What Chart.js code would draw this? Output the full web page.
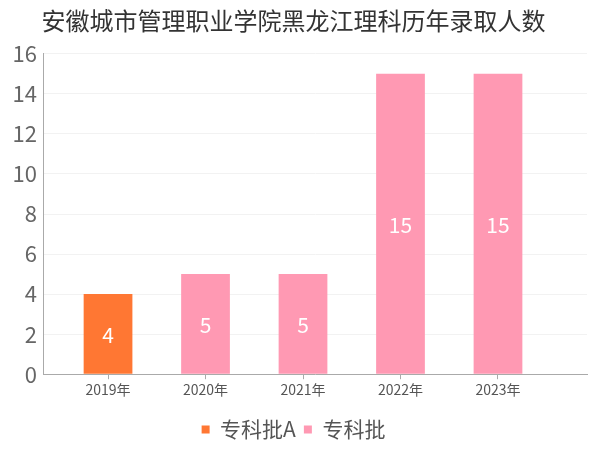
<!DOCTYPE html>
<html>
<head>
<meta charset="utf-8">
<script src="https://cdn.jsdelivr.net/npm/chart.js@4"></script>
<style>
  html, body { margin: 0; padding: 0; background: #fff; }
  #wrap { width: 600px; height: 450px; }
</style>
</head>
<body>
<div id="wrap"><canvas id="c" width="600" height="450"></canvas></div>
<script>
  // 数据
  const years = ['2019年', '2020年', '2021年', '2022年', '2023年'];
  const zhuankeA = [4, null, null, null, null];   // 专科批A
  const zhuanke = [null, 5, 5, 15, 15];           // 专科批
  const yTicks = [0, 2, 4, 6, 8, 10, 12, 14, 16];

  const FONT = '"Noto Sans CJK SC", "Noto Sans", sans-serif';

  // 只保留有值的点，x 用年份序号
  const toPoints = arr => arr
    .map((v, i) => ({ x: i, y: v }))
    .filter(p => p.y !== null);

  // 柱子中间的白色数字
  const barLabels = {
    id: 'barLabels',
    afterDatasetsDraw(chart) {
      const ctx = chart.ctx;
      ctx.save();
      ctx.fillStyle = '#fff';
      ctx.font = '21px ' + FONT;
      ctx.textAlign = 'center';
      ctx.textBaseline = 'middle';
      chart.data.datasets.forEach((ds, di) => {
        chart.getDatasetMeta(di).data.forEach((bar, j) => {
          ctx.fillText(ds.data[j].y, bar.x, (bar.y + bar.base) / 2 + 1);
        });
      });
      ctx.restore();
    }
  };

  new Chart(document.getElementById('c'), {
    type: 'bar',
    data: {
      datasets: [{
        label: '专科批A',
        data: toPoints(zhuankeA),
        backgroundColor: '#ff7733'
      }, {
        label: '专科批',
        data: toPoints(zhuanke),
        backgroundColor: '#ff99b3'
      }]
    },
    plugins: [barLabels],
    options: {
      responsive: false,
      animation: false,
      layout: { padding: { left: 0, right: 13, top: 0, bottom: 0 } },
      datasets: { bar: { categoryPercentage: 0.5, barPercentage: 1 } },
      plugins: {
        title: {
          display: true,
          text: '安徽城市管理职业学院黑龙江理科历年录取人数',
          color: '#333',
          font: { family: FONT, size: 24, weight: 'normal' },
          padding: { top: 6, bottom: 19 }
        },
        legend: {
          position: 'bottom',
          labels: {
            color: '#555',
            font: { family: FONT, size: 21 },
            boxWidth: 8,
            boxHeight: 8,
            padding: 8
          }
        },
        tooltip: { enabled: false }
      },
      scales: {
        x: {
          type: 'linear',
          stacked: true,
          offset: false,
          min: -0.667,
          max: 4.913,
          afterBuildTicks: s => { s.ticks = years.map((_, i) => ({ value: i })); },
          afterFit: s => { s.height += 11; },
          ticks: {
            color: '#555',
            font: { family: FONT, size: 14 },
            callback: v => years[v],
            padding: 2
          },
          grid: { offset: false, drawOnChartArea: false, tickLength: 5, color: '#aaa' },
          border: { color: '#aaa' }
        },
        y: {
          stacked: true,
          min: 0,
          max: 16,
          afterBuildTicks: s => { s.ticks = yTicks.map(v => ({ value: v })); },
          afterFit: s => { s.width = 43; },
          ticks: {
            color: '#666',
            font: { family: FONT, size: 22 },
            padding: 6
          },
          grid: { color: '#f2f2f2', drawTicks: false },
          border: { color: '#aaa' }
        }
      }
    }
  });
</script>
</body>
</html>
